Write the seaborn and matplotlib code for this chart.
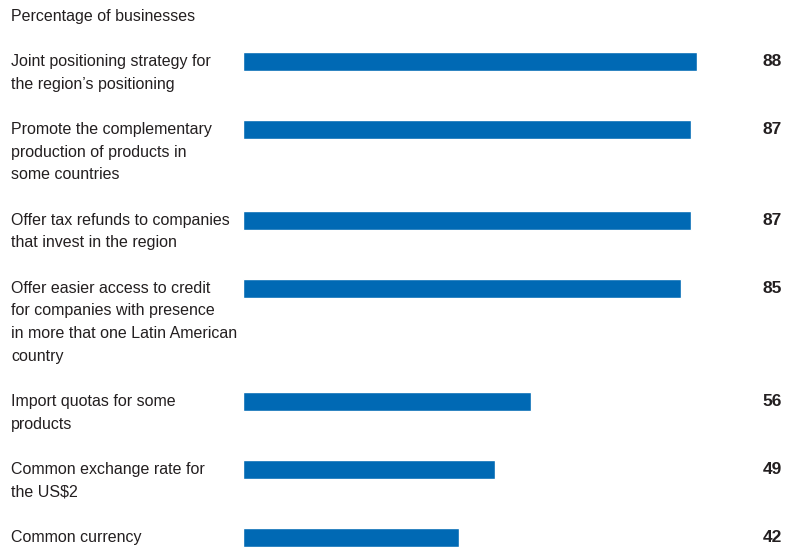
import matplotlib
matplotlib.use("Agg")
import matplotlib.pyplot as plt
import seaborn as sns
import pandas as pd
import numpy as np

labels = [
    ["Joint positioning strategy for", "the region\u2019s positioning"],
    ["Promote the complementary", "production of products in", "some countries"],
    ["Offer tax refunds to companies", "that invest in the region"],
    ["Offer easier access to credit", "for companies with presence", "in more that one Latin American", "country"],
    ["Import quotas for some", "products"],
    ["Common exchange rate for", "the US$2"],
    ["Common currency"],
]
values = [88, 87, 87, 85, 56, 49, 42]
subtitle = "Percentage of businesses"

sns.set_theme(style="white")
plt.rcParams['font.family'] = ['Liberation Sans', 'DejaVu Sans']

# positions in "line" units: each item takes its line count plus one gap line
pos = []
cur = 0.0
for lab in labels:
    pos.append(cur)
    cur += len(lab) + 1

df = pd.DataFrame({"pos": pos, "value": values})

W, H = 798, 549
fig = plt.figure(figsize=(W / 100, H / 100), dpi=100)
ax = fig.add_axes([0, 0, 1, 1])

sns.barplot(data=df, x="value", y="pos", orient="h", native_scale=True,
            color="#0069B4", saturation=1, width=0.28, ax=ax, errorbar=None)

px_per_val = (697 - 243) / 88.0
x0 = 242.5
ax.set_xlim(-x0 / px_per_val, (W - x0) / px_per_val)
px_per_unit = 22.67
top = 61.5
ax.set_ylim((H - top) / px_per_unit, -top / px_per_unit)
ax.axis("off")

fs = 11.5
trans_x = matplotlib.transforms.blended_transform_factory(fig.transFigure, ax.transData)
for p, lab, v in zip(pos, labels, values):
    for k, line in enumerate(lab):
        ax.text(11 / W, p + k, line, transform=trans_x, ha="left", va="center",
                fontsize=fs, color="#231f20")
    ax.text(782 / W, p, str(v), transform=trans_x, ha="right", va="center",
            fontsize=12.5, fontweight="bold", color="#231f20")

fig.text(11 / W, 1 - 17 / H, subtitle, ha="left", va="center", fontsize=fs, color="#231f20")

fig.savefig("out.png", dpi=100)
